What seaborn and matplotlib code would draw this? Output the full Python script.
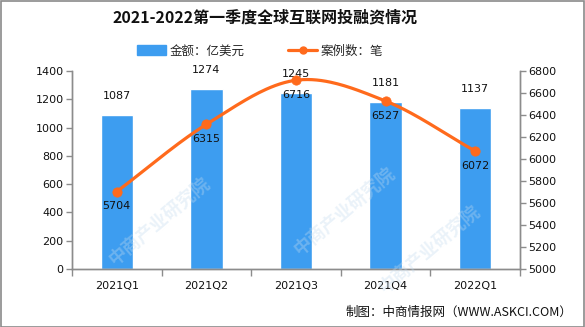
import numpy as np
import pandas as pd
import matplotlib
matplotlib.use("Agg")
import matplotlib.pyplot as plt
import seaborn as sns
from matplotlib.lines import Line2D
from matplotlib.patches import Patch, Rectangle

quarters = ["2021Q1", "2021Q2", "2021Q3", "2021Q4", "2022Q1"]
amount = [1087, 1274, 1245, 1181, 1137]      # 亿美元
deals = [5704, 6315, 6716, 6527, 6072]       # 笔

left_ticks = [0, 200, 400, 600, 800, 1000, 1200, 1400]
right_ticks = [5000, 5200, 5400, 5600, 5800, 6000, 6200, 6400, 6600, 6800]

title = "2021-2022第一季度全球互联网投融资情况"
bar_label = "金额：亿美元"
line_label = "案例数：笔"
source = "制图：中商情报网（WWW.ASKCI.COM）"
watermark = "中商产业研究院"

BAR = "#3d9df0"
LINE = "#ff6a1c"
AXIS = "#8c8c8c"

sns.set_theme(style="white")
plt.rcParams["font.family"] = ["Noto Sans CJK SC", "DejaVu Sans"]

df = pd.DataFrame({"quarter": quarters, "amount": amount, "deals": deals})

fig = plt.figure(figsize=(5.85, 3.27), dpi=100)
ax = fig.add_axes([72 / 585, 1 - 269 / 327, 448 / 585, 198 / 327])

# faint watermark, kept clear of the value labels
for (px, py) in [(160, 222), (345, 212), (430, 250)]:
    fig.text(px / 585, 1 - py / 327, watermark, rotation=40, fontsize=13,
             color="#c4dbee", alpha=0.35, ha="center", va="center",
             fontweight="bold", zorder=0)

sns.barplot(data=df, x="quarter", y="amount", color=BAR, width=0.36,
            saturation=1, ax=ax, zorder=2)
ax.set_xlim(-0.5, 4.5)
ax.set_ylim(0, 1400)
ax.set_yticks(left_ticks)
ax.set_xlabel("")
ax.set_ylabel("")
ax.patch.set_alpha(0)

for i, v in enumerate(amount):
    ax.annotate(f"{v}", (i, v), xytext=(0, 10), textcoords="offset points",
                ha="center", va="bottom", fontsize=8, color="#111111",
                family="DejaVu Sans")

ax2 = ax.twinx()
ax2.set_ylim(5000, 6800)
ax2.set_yticks(right_ticks)

# Catmull-Rom curve through the deal counts
xp = np.arange(len(deals), dtype=float)
yp = np.array(deals, dtype=float)
P = np.concatenate([[2 * yp[0] - yp[1]], yp, [2 * yp[-1] - yp[-2]]])
X = np.concatenate([[xp[0] - 1], xp, [xp[-1] + 1]])
sx, sy = [], []
for k in range(1, len(P) - 2):
    t = np.linspace(0, 1, 40)
    for arr, out in ((X, sx), (P, sy)):
        p0, p1, p2, p3 = arr[k - 1], arr[k], arr[k + 1], arr[k + 2]
        out.extend(0.5 * ((2 * p1) + (-p0 + p2) * t
                          + (2 * p0 - 5 * p1 + 4 * p2 - p3) * t ** 2
                          + (-p0 + 3 * p1 - 3 * p2 + p3) * t ** 3))
sns.lineplot(x=sx, y=sy, color=LINE, lw=2.3, ax=ax2, sort=False, zorder=3)
sns.scatterplot(x=xp, y=yp, color=LINE, s=45, edgecolor=LINE, ax=ax2, zorder=4)

for i, v in enumerate(deals):
    ax2.annotate(f"{v}", (i, v), xytext=(0, -7), textcoords="offset points",
                 ha="center", va="top", fontsize=8, color="#111111",
                 family="DejaVu Sans")

# axes styling
for a in (ax, ax2):
    a.spines["top"].set_visible(False)
    for s in ("left", "right", "bottom"):
        a.spines[s].set_color(AXIS)
        a.spines[s].set_linewidth(1)
ax.tick_params(axis="y", left=True, length=4, width=1, color=AXIS,
               labelsize=8, pad=2, labelcolor="#111111")
ax2.tick_params(axis="y", right=True, length=4, width=1, color=AXIS,
                labelsize=8, pad=2, labelcolor="#111111")
for lab in ax.get_yticklabels() + ax2.get_yticklabels():
    lab.set_family("DejaVu Sans")
ax.set_xticks(np.arange(-0.5, 5.0, 1.0), minor=True)
ax.tick_params(axis="x", which="minor", bottom=True, length=5, width=1, color=AXIS)
ax.tick_params(axis="x", which="major", bottom=False, length=0, pad=9,
               labelsize=8, labelcolor="#111111")
for lab in ax.get_xticklabels():
    lab.set_family("DejaVu Sans")

fig.text(265 / 585, 1 - 17 / 327, title, ha="center", va="center",
         fontsize=11.5, fontweight="bold", color="#111111")

handles = [Patch(facecolor=BAR, edgecolor=BAR),
           Line2D([0], [0], color=LINE, lw=2.3, marker="o", markersize=5)]
fig.legend(handles, [bar_label, line_label], loc="center",
           bbox_to_anchor=(260 / 585, 1 - 51 / 327), ncol=2, frameon=False,
           fontsize=9, handlelength=2.3, handleheight=0.9, columnspacing=3.5,
           handletextpad=0.3)

fig.text(572 / 585, 1 - 312 / 327, source, ha="right", va="center",
         fontsize=9, color="#111111")

fig.patches.append(Rectangle((0.5 / 585, 0.5 / 327), 1 - 1.5 / 585, 1 - 1.5 / 327,
                             transform=fig.transFigure, fill=False,
                             edgecolor="#8a8a8a", lw=1.2))

fig.savefig("out.png", dpi=100)
